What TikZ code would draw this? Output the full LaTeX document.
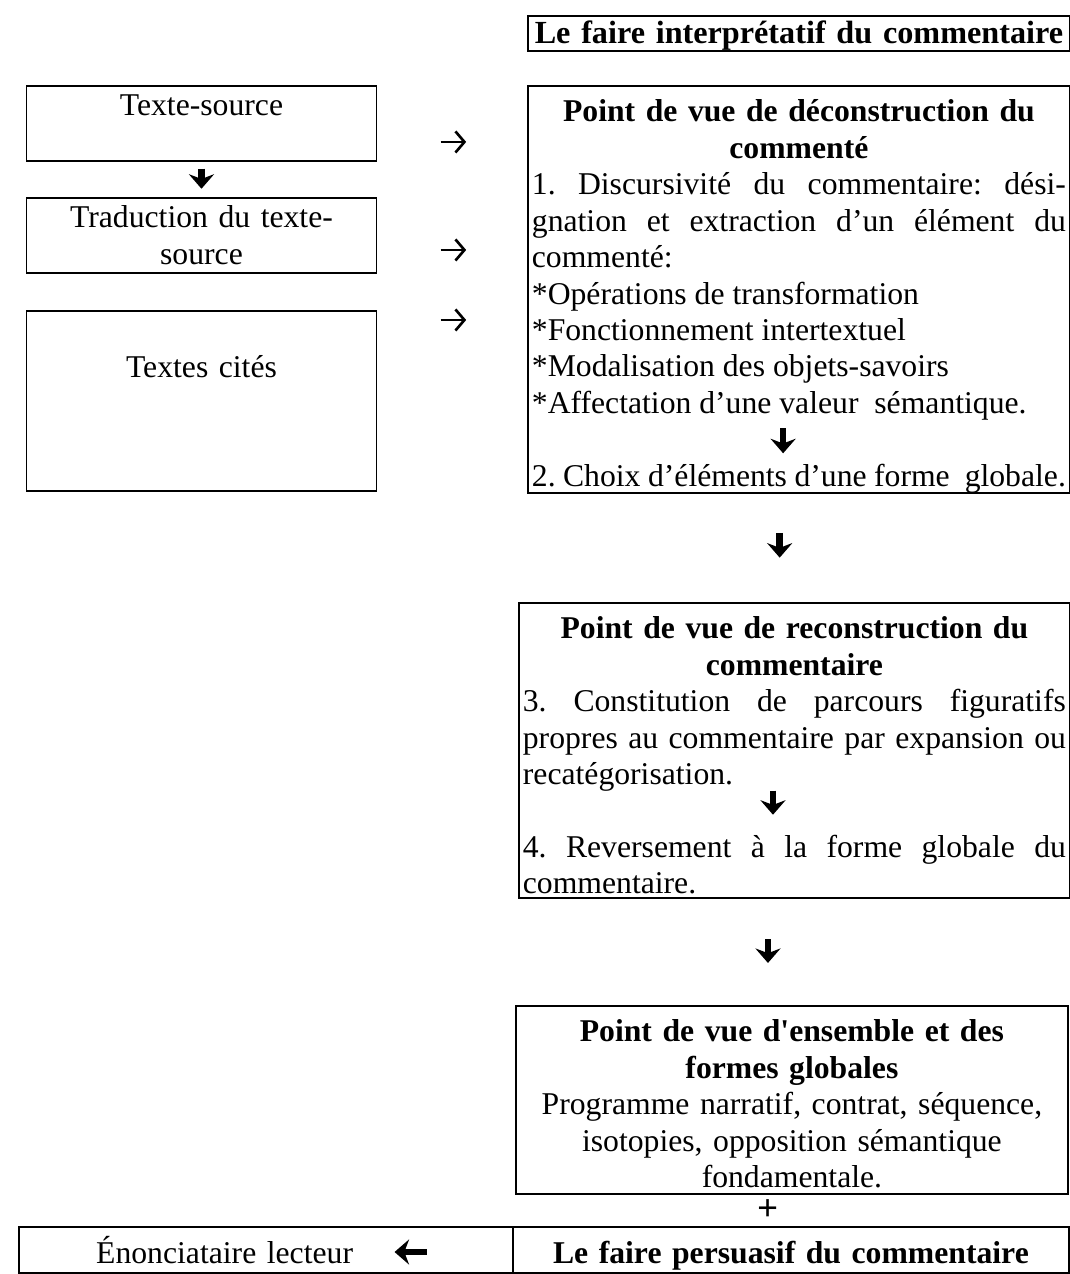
\documentclass[tikz,border=0pt]{standalone}
\usepackage{fontspec}
\setmainfont{Liberation Serif}
\usetikzlibrary{arrows.meta}

% one line of a box: justified, left or centred
\newcommand{\jline}[1]{\leavevmode\hbox to\hsize{\spaceskip=0.25em plus 1fill\xspaceskip=\spaceskip #1}}
\newcommand{\lline}[1]{\leavevmode\hbox to\hsize{\spaceskip=0.25em plus 0.1em minus 0.08em\xspaceskip=\spaceskip #1\hfil}}
\newcommand{\mline}[1]{\leavevmode\hbox to\hsize{\hss#1\hss}}

\begin{document}
\frenchspacing
\begin{tikzpicture}[
        font=\fontsize{12}{13.8}\selectfont,
        box/.style={draw, line width=0.7pt, anchor=north west, inner xsep=0.053cm, inner ysep=0pt, text height=0.479cm},
        leftbox/.style={box, text width=4.56cm, align=center, inner xsep=0.05cm},
        rightbox/.style={box, align=left},
        title/.style={font=\fontsize{12.2}{14}\selectfont\bfseries},
        bigarr/.style={line width=2.5pt, -{Stealth[length=5.5pt, width=9.5pt, inset=1.8pt]}},
        thinarr/.style={line width=1pt, -{Straight Barb[length=3.4pt, width=8pt]}, shorten <=0.84cm, shorten >=0.81cm}
    ]
        \useasboundingbox (0,0) rectangle (14.245,-16.961);

        % Left column: the texts
        \node[leftbox, text height=0.40cm, text depth=0.60cm] (ts) at (0.34,-1.132) {Texte-source};
        \node[leftbox, text height=0.40cm, text depth=0.60cm] (trad) at (0.34,-2.623) {Traduction du texte-\\source};
        \node[leftbox, text height=0.892cm, text depth=1.504cm] (cites) at (0.34,-4.127) {Textes cités};

        % Right column: the points of view
        \node[box, title, text width=7.109cm, align=center, text height=0.37cm, text depth=0.096cm] (interp) at (7.016,-0.200) {\mline{Le faire interprétatif du commentaire}};

        \node[rightbox, text width=7.109cm, text depth=4.939cm] (dec) at (7.016,-1.132) {%
            \mline{\bfseries Point de vue de déconstruction du}\\
            \mline{\bfseries commenté}\\
            \jline{1. Discursivité du commentaire: dési-}\\
            \jline{gnation et extraction d’un élément du}\\
            \lline{commenté:}\\
            \lline{*Opérations de transformation}\\
            \lline{*Fonctionnement intertextuel}\\
            \lline{*Modalisation des objets-savoirs}\\
            \lline{*Affectation d’une valeur\ \ sémantique.}\\
            \lline{}\\
            \lline{2. Choix d’éléments d’une forme\ \ globale.}};

        \node[rightbox, text width=7.229cm, text depth=3.449cm] (rec) at (6.896,-8.014) {%
            \mline{\bfseries Point de vue de reconstruction du}\\
            \mline{\bfseries commentaire}\\
            \jline{3. Constitution de parcours figuratifs}\\
            \jline{propres au commentaire par expansion ou}\\
            \lline{recatégorisation.}\\
            \lline{}\\
            \jline{4. Reversement à la forme globale du}\\
            \lline{commentaire.}};

        \node[box, text width=7.243cm, align=center, text depth=2.024cm] (ens) at (6.856,-13.380) {%
            \textbf{Point de vue d\textquotesingle ensemble et des}\\
            \textbf{formes globales}\\
            Programme narratif, contrat, séquence,\\
            isotopies, opposition sémantique\\
            fondamentale.};

        \node[font=\fontsize{14}{14}\selectfont\bfseries] (plus) at (10.224,-16.109) {+};

        % Bottom row
        \node[box, text width=6.47cm, align=center, text height=0.49cm, text depth=0.12cm] (enon) at (0.240,-16.322) {\mline{Énonciataire lecteur\kern 1.1cm}};
        \node[box, font=\fontsize{12}{14}\selectfont\bfseries, text width=7.296cm, align=center, text height=0.49cm, text depth=0.12cm] (pers) at (6.816,-16.322) {\mline{Le faire persuasif du commentaire}};

        % Guides for the short arrows
        \coordinate (row1) at (0,-1.890);
        \coordinate (row2) at (0,-3.328);
        \coordinate (row3) at (0,-4.260);
        \coordinate (col1) at (10.38,0);
        \coordinate (col2) at (10.224,0);

        % Arrows
        \draw[bigarr, shorten <=0.09cm, shorten >=0.11cm] (ts) -- (trad);
        \draw[thinarr] (ts.east |- row1) -- (dec.west |- row1);
        \draw[thinarr] (trad.east |- row2) -- (dec.west |- row2);
        \draw[thinarr] (cites.east |- row3) -- (dec.west |- row3);

        \draw[bigarr] ([shift={(-0.21,0.87)}]dec.south) -- ++(0,-0.33);
        \draw[bigarr, shorten <=0.52cm, shorten >=0.59cm] (dec.south -| col1) -- (rec.north -| col1);
        \draw[bigarr] ([shift={(-0.285,1.44)}]rec.south) -- ++(0,-0.32);
        \draw[bigarr, shorten <=0.54cm, shorten >=0.56cm] (rec.south -| col2) -- (ens.north -| col2);

        \draw[bigarr] ([shift={(-1.158,-0.346)}]enon.north east) -- ++(-0.43,0);
    \end{tikzpicture}
\end{document}
